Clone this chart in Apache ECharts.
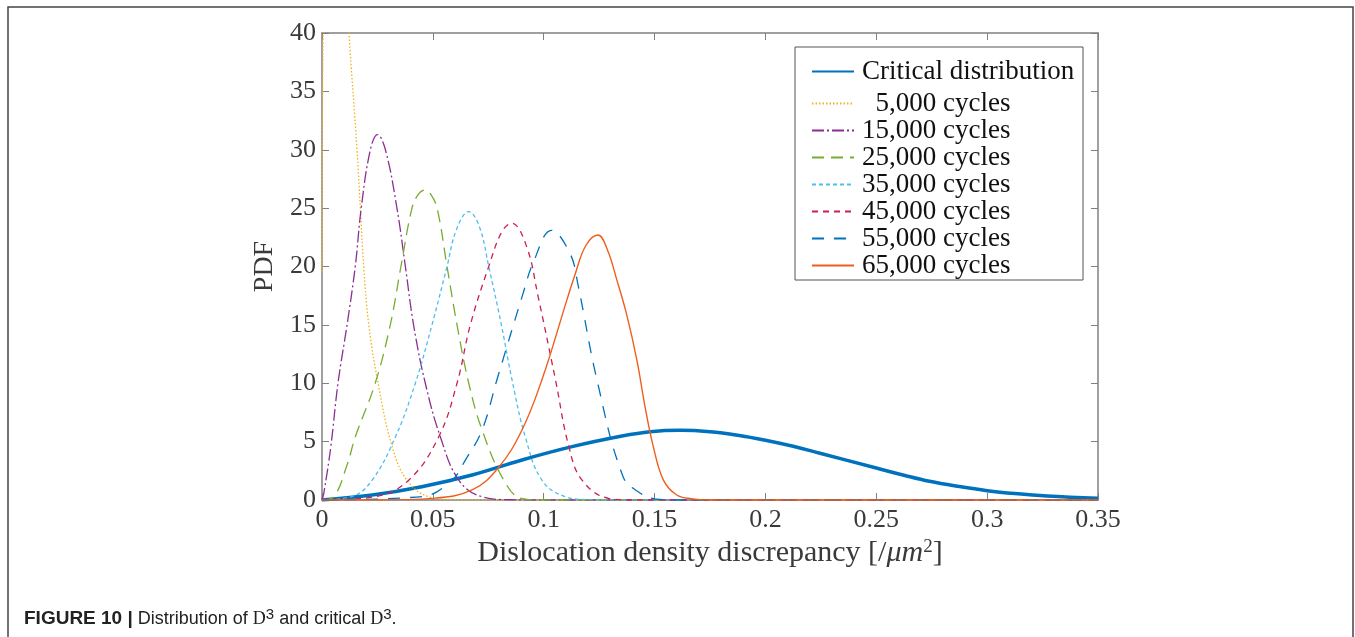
<!DOCTYPE html>
<html>
<head>
<meta charset="utf-8">
<script src="https://cdn.jsdelivr.net/npm/echarts@6/dist/echarts.min.js"></script>
<style>
  html, body { margin: 0; padding: 0; background: #fff; }
  #main { width: 1355px; height: 637px; }
</style>
</head>
<body>
<div id="main"></div>
<script>
// series names, as in the legend
var names = ['Critical distribution', '  5,000 cycles', '15,000 cycles', '25,000 cycles',
  '35,000 cycles', '45,000 cycles', '55,000 cycles', '65,000 cycles'];

// [dislocation density discrepancy, PDF]
var critical = [[0, 0], [0.0226, 0.43], [0.045, 1.14], [0.0677, 2.14], [0.0902, 3.43],
  [0.1128, 4.57], [0.1353, 5.48], [0.148, 5.85], [0.1615, 5.97], [0.175, 5.85],
  [0.1875, 5.55], [0.2, 5.12], [0.2125, 4.6], [0.2246, 4.0], [0.25, 2.74], [0.2625, 2.12],
  [0.274, 1.6], [0.2875, 1.15], [0.3, 0.8], [0.3125, 0.55], [0.327, 0.34], [0.35, 0.15]];
var c5000 = [[0, 19.6], [0.001, 48], [0.005, 62], [0.009, 52], [0.0122, 40], [0.0158, 30],
  [0.0173, 25], [0.0188, 20], [0.0211, 15], [0.0253, 10], [0.0316, 4.6], [0.0383, 1.7],
  [0.048, 0.29], [0.06, 0.02], [0.08, 0], [0.35, 0]];
var c15000 = [[0, 0], [0.0008, 0.57], [0.004, 4.6], [0.0072, 10], [0.0113, 15], [0.015, 20],
  [0.0177, 25], [0.0218, 30], [0.025, 31.3], [0.0286, 30], [0.0338, 25], [0.0376, 20],
  [0.0413, 15], [0.0466, 10], [0.0534, 5.4], [0.0617, 1.7], [0.072, 0.29], [0.085, 0.02],
  [0.1, 0], [0.35, 0]];
var c25000 = [[0, 0], [0.0053, 0.29], [0.0113, 3.0], [0.015, 5.4], [0.024, 10], [0.0308, 15],
  [0.0356, 20], [0.0406, 25], [0.0435, 26.2], [0.0463, 26.55], [0.049, 26.2], [0.0519, 25],
  [0.0564, 20], [0.0609, 15], [0.0662, 10], [0.0722, 6.0], [0.082, 1.7], [0.09, 0.14],
  [0.1, 0], [0.35, 0]];
var c35000 = [[0, 0], [0.0135, 0.29], [0.0226, 1.7], [0.0331, 5.4], [0.0421, 10], [0.0496, 15],
  [0.0564, 20], [0.0607, 23.2], [0.0662, 24.7], [0.071, 23.4], [0.0752, 20], [0.0809, 15],
  [0.0857, 10.3], [0.0917, 5.4], [0.0992, 1.7], [0.1096, 0.29], [0.12, 0.03], [0.13, 0],
  [0.35, 0]];
var c45000 = [[0, 0], [0.0239, 0.29], [0.0391, 1.7], [0.0526, 5.4], [0.0609, 10], [0.0669, 15],
  [0.0752, 20], [0.0812, 23], [0.0856, 23.7], [0.0923, 21.7], [0.0975, 17.4], [0.1053, 10.3],
  [0.1113, 4.6], [0.1173, 1.7], [0.1293, 0.14], [0.14, 0], [0.35, 0]];
var c55000 = [[0, 0], [0.0451, 0.29], [0.0586, 1.7], [0.0646, 3.4], [0.0722, 6.0], [0.0789, 10.3],
  [0.0907, 17.7], [0.0952, 20.3], [0.1035, 23.1], [0.1119, 21.1], [0.1155, 18.4], [0.124, 10.3],
  [0.1358, 2.0], [0.1434, 0.6], [0.15, 0.1], [0.16, 0], [0.35, 0]];
var c65000 = [[0, 0], [0.026, 0], [0.0496, 0.14], [0.0677, 0.86], [0.0797, 2.8], [0.0902, 6.0],
  [0.0992, 10.3], [0.1104, 17.1], [0.1141, 19.3], [0.119, 21.8], [0.1245, 22.7], [0.1288, 21.4],
  [0.1329, 18.9], [0.1374, 15.9], [0.142, 12.0], [0.1457, 8.0], [0.1494, 4.6], [0.154, 1.7],
  [0.16, 0.43], [0.167, 0.1], [0.175, 0], [0.35, 0]];

var xTicks = ['0', '0.05', '0.1', '0.15', '0.2', '0.25', '0.3', '0.35'];

var curves = [critical, c5000, c15000, c25000, c35000, c45000, c55000, c65000];
var colors = ['#0072BD', '#F2B21C', '#8A2F91', '#77AC30', '#4DBEEE', '#CC2050', '#0072BD', '#EE5E1E'];
var dashes = ['solid', [1.5, 2], [12, 3, 2, 3], [12, 7], [4, 3], [6, 5], [12, 10], 'solid'];
var widths = [3.5, 1.3, 1.3, 1.3, 1.3, 1.3, 1.3, 1.4];

var serif = '"Liberation Serif", "DejaVu Serif", serif';
var sans = '"Liberation Sans", Arial, sans-serif';
var axisGray = '#808080';
var labelColor = '#3a3a3a';

var chart = echarts.init(document.getElementById('main'));

var series = curves.map(function (d, i) {
  return {
    name: names[i],
    type: 'line',
    data: d,
    showSymbol: false,
    symbol: 'none',
    symbolSize: 0,
    smooth: 0.4,
    clip: true,
    color: colors[i],
    lineStyle: { color: colors[i], width: widths[i], type: dashes[i] }
  };
});

var legendText = { fontFamily: serif, fontSize: 27, color: '#111', lineHeight: 27, padding: [0, 0, 0, 3] };

chart.setOption({
  backgroundColor: '#fff',
  animation: false,
  grid: { left: 322, top: 33, right: 257, bottom: 137, containLabel: false },
  legend: [{
    data: [names[0]],
    orient: 'vertical',
    left: 806,
    top: 53,
    itemWidth: 42,
    itemHeight: 14,
    itemStyle: { opacity: 0 },
    textStyle: legendText
  }, {
    data: names.slice(1),
    orient: 'vertical',
    left: 806,
    top: 85,
    itemWidth: 42,
    itemHeight: 14,
    itemGap: 0,
    itemStyle: { opacity: 0 },
    textStyle: legendText
  }],
  xAxis: [{
    type: 'value', min: 0, max: 0.35, interval: 0.05,
    name: 'Dislocation density discrepancy [/{i|μm}{sup|2}]',
    nameLocation: 'middle',
    nameGap: 38,
    nameTextStyle: {
      fontFamily: serif, fontSize: 30, color: labelColor,
      rich: {
        i: { fontFamily: serif, fontStyle: 'italic', fontSize: 30, color: labelColor },
        sup: { fontFamily: serif, fontSize: 19, color: labelColor, verticalAlign: 'top', lineHeight: 20 }
      }
    },
    axisLine: { onZero: false, lineStyle: { color: axisGray, width: 1.5 } },
    axisTick: { inside: true, length: 7, lineStyle: { color: axisGray } },
    axisLabel: {
      fontFamily: serif, fontSize: 26, color: labelColor, margin: 7,
      formatter: function (v) { return xTicks[Math.round(v / 0.05)]; }
    },
    splitLine: { show: false }
  }, {
    type: 'value', position: 'top', min: 0, max: 0.35, interval: 0.05,
    axisLine: { onZero: false, lineStyle: { color: axisGray, width: 1.5 } },
    axisTick: { inside: true, length: 7, lineStyle: { color: axisGray } },
    axisLabel: { show: false },
    splitLine: { show: false }
  }],
  yAxis: [{
    type: 'value', min: 0, max: 40, interval: 5,
    name: 'PDF',
    nameLocation: 'middle',
    nameGap: 38,
    nameTextStyle: { fontFamily: serif, fontSize: 28, color: labelColor },
    axisLine: { show: true, onZero: false, lineStyle: { color: axisGray, width: 1.5 } },
    axisTick: { show: true, inside: true, length: 7, lineStyle: { color: axisGray } },
    axisLabel: { fontFamily: serif, fontSize: 26, color: labelColor, margin: 6 },
    splitLine: { show: false }
  }, {
    type: 'value', position: 'right', min: 0, max: 40, interval: 5,
    axisLine: { show: true, onZero: false, lineStyle: { color: axisGray, width: 1.5 } },
    axisTick: { show: true, inside: true, length: 7, lineStyle: { color: axisGray } },
    axisLabel: { show: false },
    splitLine: { show: false }
  }],
  graphic: [{
    type: 'rect',
    shape: { x: 8, y: 7, width: 1345, height: 700 },
    style: { fill: null, stroke: '#444', lineWidth: 1.5 },
    silent: true
  }, {
    type: 'rect',
    shape: { x: 795, y: 47, width: 288, height: 233 },
    style: { fill: '#fff', stroke: '#555', lineWidth: 1 },
    z: 2,
    silent: true
  }, {
    type: 'text',
    left: 24,
    top: 607,
    style: {
      text: '{b|FIGURE 10 |} Distribution of {d|D}{s|3} and critical {d|D}{s|3}.',
      fontFamily: sans,
      fontSize: 18,
      fill: '#222',
      rich: {
        b: { fontFamily: sans, fontWeight: 'bold', fontSize: 19, fill: '#222', lineHeight: 24 },
        d: { fontFamily: serif, fontSize: 18, fill: '#222', lineHeight: 24 },
        s: { fontFamily: sans, fontSize: 15, fill: '#222', verticalAlign: 'top', lineHeight: 17 }
      }
    }
  }],
  series: series
});
</script>
</body>
</html>
